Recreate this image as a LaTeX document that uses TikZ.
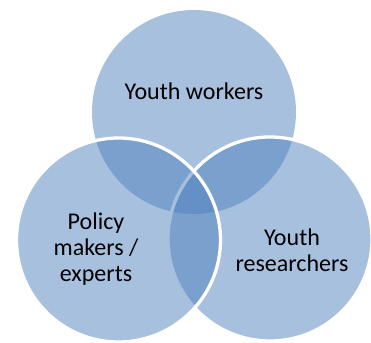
\documentclass[tikz,border=0pt]{standalone}
\usepackage{fontspec}
\setmainfont{Carlito}
\usepackage{tikz}
\usetikzlibrary{positioning}
\definecolor{vennblue}{RGB}{79,129,189}
\newcommand{\venndiam}{6.12cm}

\begin{document}
\begin{tikzpicture}[x=0.03cm, y=-0.03cm]

        \useasboundingbox (0,0) rectangle (371,343);

        \tikzset{
            venn/.style={circle,
                minimum size=\venndiam,
                inner sep=0pt,
                fill=vennblue,
                fill opacity=0.5},
            vennrim/.style={draw=white, line width=2.8pt},
            vennlabel/.style={align=center,
                font=\fontsize{20.5}{22.5}\selectfont}
        }

        % Circles
        \node[venn] (Workers) at (194,112) {};
        \node[venn, vennrim] (Researchers) at (270,239) {};
        \node[venn, vennrim] (Policy) at (118.5,240) {};

        % Labels
        \node[vennlabel] (Workers-Label) at (194,91) {Youth workers};
        \node[vennlabel] (Policy-Label) at (96,249) {Policy\\makers /\\experts};
        \node[vennlabel] (Researchers-Label) at (292,250) {Youth\\researchers};

\end{tikzpicture}
\end{document}
